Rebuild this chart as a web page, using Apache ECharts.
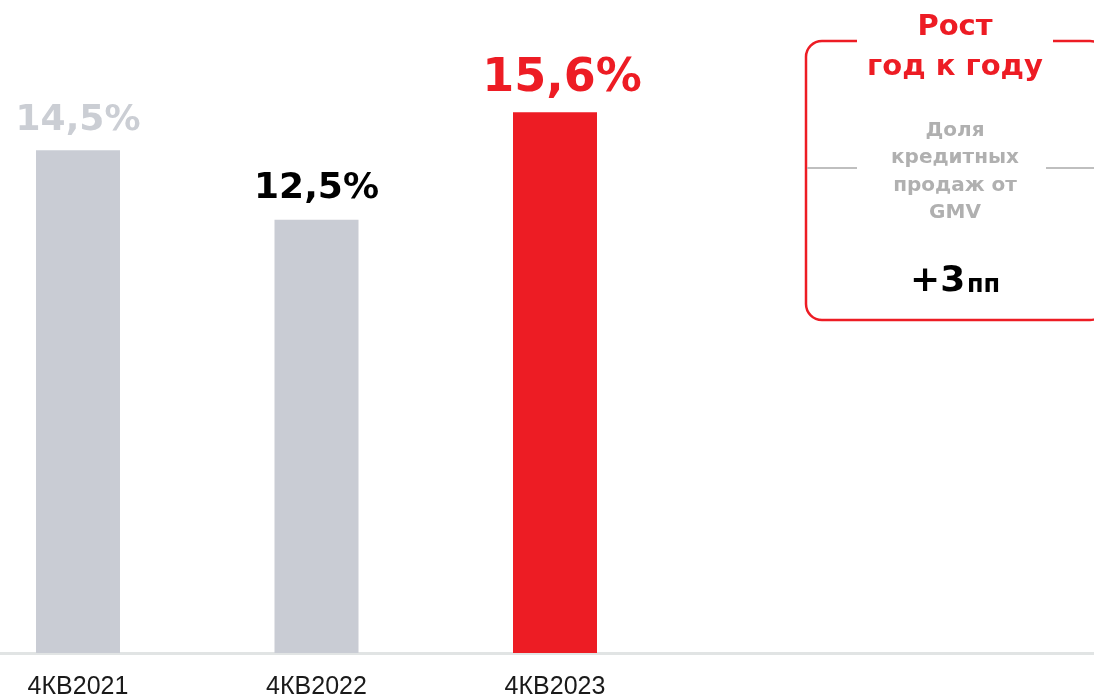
<!DOCTYPE html>
<html><head><meta charset="utf-8">
<script src="https://cdn.jsdelivr.net/npm/echarts@6/dist/echarts.min.js"></script>
<style>html,body{margin:0;padding:0;background:#fff}#c{width:1094px;height:699px}</style>
</head><body><div id="c"></div>
<script>
const categories = ['4КВ2021', '4КВ2022', '4КВ2023'];
const values = [14.5, 12.5, 15.6];
const valueLabels = ['14,5%', '12,5%', '15,6%'];
const barColors = ['#C9CCD4', '#C9CCD4', '#ED1C24'];
const labelColors = ['#CBCED4', '#000000', '#ED1C24'];
const labelSizes = [36, 36, 46];
const labelDistances = [12, 13, 10];
const labelShifts = [0, 0, 7];
const boxTitle = 'Рост\nгод к году';
const boxSubtitle = 'Доля\nкредитных\nпродаж от\nGMV';
const boxValue = '+3';
const boxUnit = 'пп';

const chart = echarts.init(document.getElementById('c'));
const FONT = '"DejaVu Sans", Verdana, sans-serif';
chart.setOption({
  animation: false,
  grid: [
    { left: 78, right: 539, top: 29, bottom: 46, outerBoundsMode: 'none', containLabel: false },
    { left: 0, right: 0, top: 29, bottom: 46, outerBoundsMode: 'none', containLabel: false }
  ],
  xAxis: [{
    type: 'category', data: categories, boundaryGap: false, gridIndex: 0,
    axisLine: { show: false },
    axisTick: { show: false },
    axisLabel: { color: '#1a1a1a', fontSize: 25, fontFamily: '"Liberation Sans", Arial, sans-serif', margin: 22, interval: 0 }
  }, {
    type: 'value', gridIndex: 1, min: 0, max: 1,
    axisLine: { show: true, lineStyle: { color: '#E1E4E4', width: 3 } },
    axisTick: { show: false }, axisLabel: { show: false }, splitLine: { show: false }
  }],
  yAxis: [
    { type: 'value', gridIndex: 0, min: 0, max: 18, show: false, splitLine: { show: false } },
    { type: 'value', gridIndex: 1, min: 0, max: 18, show: false, splitLine: { show: false } }
  ],
  series: [{
    type: 'bar', barWidth: 84, xAxisIndex: 0, yAxisIndex: 0,
    data: values.map((v, i) => ({
      value: v,
      itemStyle: { color: barColors[i] },
      label: {
        show: true, position: 'top', distance: labelDistances[i], offset: [labelShifts[i], 0],
        formatter: valueLabels[i], color: labelColors[i],
        fontSize: labelSizes[i], fontWeight: 'bold', fontFamily: FONT
      }
    }))
  }],
  graphic: [
    { type: 'rect', shape: { x: 806, y: 41, width: 300, height: 279, r: 16 },
      style: { fill: 'none', stroke: '#ED1C24', lineWidth: 2.5 } },
    { type: 'rect', shape: { x: 857, y: 30, width: 196, height: 20 }, style: { fill: '#fff' } },
    { type: 'line', shape: { x1: 807, y1: 168, x2: 857, y2: 168 }, style: { stroke: '#BFBFBF', lineWidth: 2 } },
    { type: 'line', shape: { x1: 1046, y1: 168, x2: 1094, y2: 168 }, style: { stroke: '#BFBFBF', lineWidth: 2 } },
    { type: 'text', x: 955, y: 47, style: { text: boxTitle, fill: '#ED1C24', font: 'bold 29px ' + FONT,
      textAlign: 'center', textVerticalAlign: 'middle', lineHeight: 40 } },
    { type: 'text', x: 955, y: 172, style: { text: boxSubtitle, fill: '#B0B0B0', font: 'bold 20px ' + FONT,
      textAlign: 'center', textVerticalAlign: 'middle', lineHeight: 27.5 } },
    { type: 'text', x: 910, y: 282, style: { text: boxValue, fill: '#000', font: 'bold 36px ' + FONT,
      textAlign: 'left', textVerticalAlign: 'middle' } },
    { type: 'text', x: 967, y: 286, style: { text: boxUnit, fill: '#000', font: 'bold 24px ' + FONT,
      textAlign: 'left', textVerticalAlign: 'middle' } }
  ]
});
</script></body></html>
